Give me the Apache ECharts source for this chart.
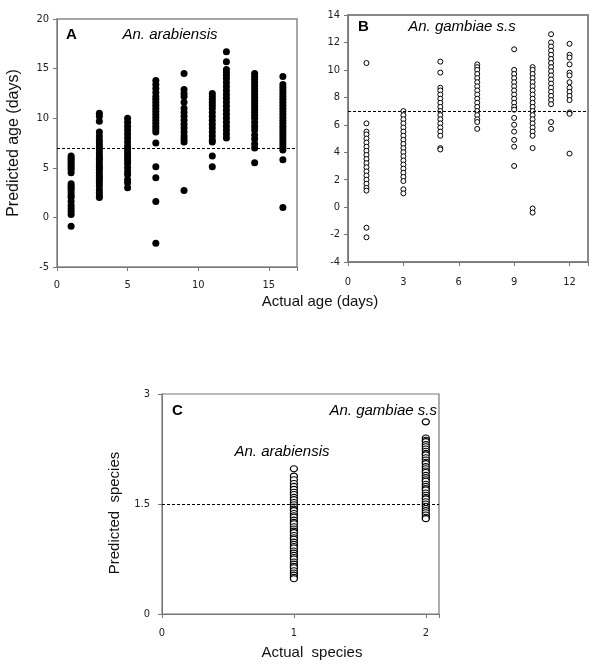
<!DOCTYPE html>
<html>
<head>
<meta charset="utf-8">
<script src="https://cdn.jsdelivr.net/npm/echarts@6/dist/echarts.min.js"></script>
<style>html,body{margin:0;padding:0;background:#fff}#c{width:600px;height:668px}</style>
</head>
<body>
<div id="c"></div>
<script>
// ---- Panel A: An. arabiensis (actual day -> predicted ages)
const A_days = [1, 3, 5, 7, 9, 11, 12, 14, 16];
const A_d1 = [6.2, 6.0, 5.8, 5.6, 5.4, 5.2, 5.0, 4.8, 4.5, 3.4, 3.2, 3.0, 2.8, 2.5, 2.2, 2.0, 1.6, 1.2, 0.9, 0.6, 0.3, -0.9];
const A_d3 = [10.5, 10.2, 9.7, 8.6, 8.2, 7.8, 7.5, 7.2, 7.0, 6.8, 6.5, 6.2, 6.0, 5.8, 5.5, 5.2, 5.0, 4.8, 4.5, 4.2, 4.0, 3.8, 3.5, 3.2, 2.8, 2.5, 2.2, 2.0];
const A_d5 = [10.0, 9.6, 9.2, 8.8, 8.4, 8.0, 7.6, 7.2, 6.9, 6.6, 6.3, 6.0, 5.7, 5.4, 5.0, 4.6, 4.3, 3.8, 3.5, 3.0];
const A_d7 = [13.8, 13.4, 13.0, 12.6, 12.2, 11.9, 11.6, 11.3, 11.0, 10.7, 10.4, 10.1, 9.8, 9.5, 9.2, 8.9, 8.6, 7.5, 5.1, 4.0, 1.6, -2.6];
const A_d9 = [14.5, 12.9, 12.5, 12.2, 11.6, 11.0, 10.6, 10.2, 9.8, 9.4, 9.0, 8.6, 8.2, 7.9, 7.6, 2.7];
const A_d11 = [12.5, 12.2, 11.9, 11.6, 11.3, 11.0, 10.6, 10.2, 9.8, 9.4, 9.0, 8.6, 8.2, 7.8, 7.6, 6.2, 5.1];
const A_d12 = [16.7, 15.7, 14.9, 14.6, 14.3, 14.0, 13.6, 13.2, 12.8, 12.4, 12.0, 11.6, 11.2, 10.8, 10.4, 10.0, 9.6, 9.2, 8.8, 8.4, 8.0];
const A_d14 = [14.5, 14.2, 13.9, 13.6, 13.3, 13.0, 12.7, 12.4, 12.1, 11.8, 11.5, 11.2, 10.9, 10.6, 10.3, 10.0, 9.6, 9.2, 8.8, 8.3, 7.9, 7.4, 7.0, 5.5];
const A_d16 = [14.2, 13.4, 13.1, 12.8, 12.5, 12.2, 11.9, 11.6, 11.3, 11.0, 10.7, 10.4, 10.1, 9.8, 9.5, 9.2, 8.9, 8.6, 8.3, 8.0, 7.7, 7.4, 7.1, 6.8, 5.8, 1.0];
const A_pred = [A_d1, A_d3, A_d5, A_d7, A_d9, A_d11, A_d12, A_d14, A_d16];

// ---- Panel B: An. gambiae s.s
const B_days = [1, 3, 5, 7, 9, 10, 11, 12];
const B_d1 = [10.5, 6.1, 5.5, 5.3, 5.0, 4.7, 4.4, 4.1, 3.8, 3.5, 3.2, 2.9, 2.6, 2.3, 2.0, 1.7, 1.4, 1.2, -1.5, -2.2];
const B_d3 = [7.0, 6.7, 6.4, 6.1, 5.8, 5.5, 5.2, 4.9, 4.6, 4.3, 4.0, 3.7, 3.4, 3.1, 2.8, 2.5, 2.2, 1.9, 1.3, 1.0];
const B_d5 = [10.6, 9.8, 8.7, 8.5, 8.2, 7.9, 7.6, 7.3, 7.0, 6.7, 6.4, 6.1, 5.8, 5.5, 5.2, 4.3, 4.2];
const B_d7 = [10.4, 10.2, 10.0, 9.7, 9.4, 9.1, 8.8, 8.5, 8.2, 7.9, 7.6, 7.3, 7.0, 6.7, 6.4, 6.2, 5.7];
const B_d9 = [11.5, 10.0, 9.7, 9.4, 9.1, 8.8, 8.5, 8.2, 7.9, 7.6, 7.3, 7.1, 6.5, 6.0, 5.5, 4.9, 4.4, 3.0];
const B_d10 = [10.2, 10.0, 9.7, 9.4, 9.1, 8.8, 8.5, 8.2, 7.9, 7.6, 7.3, 7.0, 6.7, 6.4, 6.1, 5.8, 5.5, 5.2, 4.3, -0.1, -0.4];
const B_d11 = [12.6, 12.0, 11.7, 11.4, 11.1, 10.8, 10.5, 10.2, 9.9, 9.6, 9.3, 9.0, 8.7, 8.4, 8.1, 7.8, 7.5, 6.2, 5.7];
const B_d12 = [11.9, 11.1, 10.9, 10.4, 9.8, 9.6, 9.1, 8.7, 8.4, 8.1, 7.8, 6.9, 6.8, 3.9];
const B_pred = [B_d1, B_d3, B_d5, B_d7, B_d9, B_d10, B_d11, B_d12];

// ---- Panel C: species prediction
const C_species = [1, 2];
const C_s1 = [1.98, 1.88, 1.83, 1.78, 1.74, 1.70, 1.66, 1.63, 1.59, 1.56, 1.52, 1.49, 1.46, 1.43, 1.41, 1.37, 1.34, 1.32, 1.28, 1.25, 1.23, 1.19, 1.16, 1.13, 1.11, 1.07, 1.04, 1.02, 0.98, 0.95, 0.92, 0.90, 0.86, 0.83, 0.80, 0.77, 0.75, 0.71, 0.68, 0.65, 0.63, 0.59, 0.56, 0.53, 0.50, 0.48];
const C_s2 = [2.62, 2.40, 2.37, 2.35, 2.31, 2.28, 2.25, 2.22, 2.19, 2.17, 2.13, 2.10, 2.07, 2.05, 2.01, 1.98, 1.95, 1.93, 1.89, 1.86, 1.83, 1.81, 1.77, 1.74, 1.71, 1.69, 1.65, 1.62, 1.59, 1.57, 1.53, 1.50, 1.47, 1.44, 1.41, 1.38, 1.35, 1.32, 1.30];
const C_pred = [C_s1, C_s2];

// thresholds
const A_cut = 7, B_cut = 7, C_cut = 1.5;

function pairs(xs, cols) {
  const out = [];
  xs.forEach((x, i) => cols[i].forEach(v => out.push([x, v])));
  return out;
}

const tickFont = { fontFamily: 'DejaVu Sans Condensed, Liberation Sans', fontSize: 11, color: '#222' };
const titleFont = { fontFamily: 'Liberation Sans, Arial', fontSize: 16, color: '#111' };

function dash(v) {
  return {
    silent: true, symbol: 'none', label: { show: false },
    lineStyle: { color: '#000', type: [3, 2], width: 1, opacity: 1 },
    data: [{ yAxis: v }]
  };
}
const axLine = { show: true, onZero: false, lineStyle: { color: '#777', width: 1 } };
const axTick = { show: true, length: 4, inside: false, lineStyle: { color: '#777' } };

const chart = echarts.init(document.getElementById('c'), null, { renderer: 'canvas' });
chart.setOption({
  animation: false,
  backgroundColor: '#fff',
  grid: [
    { left: 57, top: 19, width: 240, height: 248, show: true, borderColor: '#888', borderWidth: 1.5, backgroundColor: 'transparent' },
    { left: 348, top: 15, width: 240, height: 247, show: true, borderColor: '#888', borderWidth: 2, backgroundColor: 'transparent' },
    { left: 162, top: 394, width: 277, height: 220, show: true, borderColor: '#777', borderWidth: 1.2, backgroundColor: 'transparent' }
  ],
  xAxis: [
    { gridIndex: 0, type: 'value', min: 0, max: 17, interval: 5, splitLine: { show: false },
      axisLine: axLine, axisTick: axTick,
      axisLabel: Object.assign({ margin: 13, formatter: v => (v % 5 === 0 ? String(v) : '') }, tickFont) },
    { gridIndex: 1, type: 'value', min: 0, max: 13, interval: 3, splitLine: { show: false },
      axisLine: axLine, axisTick: axTick,
      axisLabel: Object.assign({ margin: 15, formatter: v => (v % 3 === 0 ? String(v) : '') }, tickFont) },
    { gridIndex: 2, type: 'value', min: 0, max: 2.1, interval: 1, splitLine: { show: false },
      axisLine: axLine, axisTick: axTick,
      axisLabel: Object.assign({ margin: 14, formatter: v => (Number.isInteger(v) ? String(v) : '') }, tickFont) }
  ],
  yAxis: [
    { gridIndex: 0, type: 'value', min: -5, max: 20, interval: 5, splitLine: { show: false },
      axisLine: axLine, axisTick: axTick,
      name: 'Predicted age (days)', nameLocation: 'middle', nameGap: 35, nameTextStyle: titleFont,
      axisLabel: Object.assign({ margin: 8 }, tickFont) },
    { gridIndex: 1, type: 'value', min: -4, max: 14, interval: 2, splitLine: { show: false },
      axisLine: axLine, axisTick: axTick,
      axisLabel: Object.assign({ margin: 8 }, tickFont) },
    { gridIndex: 2, type: 'value', min: 0, max: 3, interval: 1.5, splitLine: { show: false },
      axisLine: axLine, axisTick: axTick,
      axisLabel: Object.assign({ margin: 12 }, tickFont) }
  ],
  series: [
    { type: 'scatter', xAxisIndex: 0, yAxisIndex: 0, data: pairs(A_days, A_pred),
      symbol: 'circle', symbolSize: 7, itemStyle: { color: '#000', opacity: 1 }, markLine: dash(A_cut) },
    { type: 'scatter', xAxisIndex: 1, yAxisIndex: 1, data: pairs(B_days, B_pred),
      symbol: 'circle', symbolSize: 5, itemStyle: { color: '#fff', borderColor: '#000', borderWidth: 1, opacity: 1 }, markLine: dash(B_cut) },
    { type: 'scatter', xAxisIndex: 2, yAxisIndex: 2, data: pairs(C_species, C_pred),
      symbol: 'circle', symbolSize: [7, 6], itemStyle: { color: '#fff', borderColor: '#000', borderWidth: 1.2, opacity: 1 }, markLine: dash(C_cut) }
  ],
  graphic: [
    { type: 'text', x: 320, y: 294, style: { text: 'Actual age (days)', font: '15px Liberation Sans', fill: '#111', textAlign: 'center' } },
    { type: 'text', x: 312, y: 645, style: { text: 'Actual  species', font: '15px Liberation Sans', fill: '#111', textAlign: 'center' } },
    { type: 'text', x: 115, y: 513, rotation: Math.PI / 2, style: { text: 'Predicted  species', font: '15px Liberation Sans', fill: '#111', textAlign: 'center', textVerticalAlign: 'middle' } },
    { type: 'text', x: 66, y: 27, style: { text: 'A', font: 'bold 15px Liberation Sans', fill: '#000' } },
    { type: 'text', x: 170, y: 27, style: { text: 'An. arabiensis', font: 'italic 15px Liberation Sans', fill: '#000', textAlign: 'center' } },
    { type: 'text', x: 358, y: 19, style: { text: 'B', font: 'bold 15px Liberation Sans', fill: '#000' } },
    { type: 'text', x: 462, y: 19, style: { text: 'An. gambiae s.s', font: 'italic 15px Liberation Sans', fill: '#000', textAlign: 'center' } },
    { type: 'text', x: 172, y: 403, style: { text: 'C', font: 'bold 15px Liberation Sans', fill: '#000' } },
    { type: 'text', x: 437, y: 403, style: { text: 'An. gambiae s.s', font: 'italic 15px Liberation Sans', fill: '#000', textAlign: 'right' } },
    { type: 'text', x: 282, y: 444, style: { text: 'An. arabiensis', font: 'italic 15px Liberation Sans', fill: '#000', textAlign: 'center' } }
  ]
});
</script>
</body>
</html>
